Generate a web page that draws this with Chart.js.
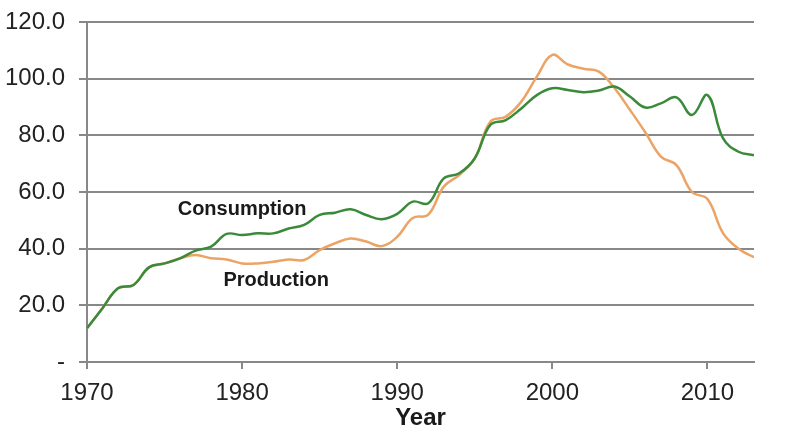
<!DOCTYPE html>
<html>
<head>
<meta charset="utf-8">
<script src="https://cdn.jsdelivr.net/npm/chart.js@4"></script>
<style>
  html, body { margin: 0; padding: 0; background: #fff; }
  #wrap { width: 800px; height: 441px; }
</style>
</head>
<body>
<div id="wrap"><canvas id="oilChart" width="800" height="441"></canvas></div>
<script>
// Years 1970 - 2013
const years = [];
for (let y = 1970; y <= 2013; y++) years.push(y);

const consumption = [
  11.9, 19.0, 26.0, 27.2, 33.4, 34.8, 36.6, 39.3, 40.7, 45.2,
  44.8, 45.4, 45.4, 47.1, 48.4, 51.9, 52.7, 53.9, 51.9, 50.4,
  52.3, 56.6, 56.0, 64.8, 66.6, 71.9, 83.7, 85.4, 89.5, 94.2,
  96.6, 96.0, 95.2, 95.8, 97.2, 93.7, 89.8, 91.3, 93.4, 87.2,
  94.2, 79.0, 74.2, 73.0
];

const production = [
  11.9, 19.0, 26.0, 27.2, 33.4, 34.8, 36.6, 37.8, 36.6, 36.2,
  34.8, 34.8, 35.4, 36.2, 36.0, 39.5, 41.9, 43.6, 42.5, 40.9,
  44.2, 50.8, 52.0, 61.9, 66.0, 71.9, 84.8, 86.6, 91.9, 100.7,
  108.4, 105.0, 103.5, 102.5, 96.7, 89.0, 81.0, 72.5, 69.5, 60.0,
  57.5, 45.5, 40.0, 37.0
];

const yTicks = [0, 20, 40, 60, 80, 100, 120];
const xTicks = [1970, 1980, 1990, 2000, 2010];

// series name labels drawn inside the plot, anchored in data units
const seriesLabels = [
  { text: "Consumption", x: 1980.0, y: 54.0 },
  { text: "Production", x: 1982.2, y: 28.6 }
];

const toPoints = arr => arr.map((v, i) => ({ x: years[i], y: v }));

const FONT = "'Liberation Sans', Arial, sans-serif";

const labelPlugin = {
  id: "seriesLabels",
  afterDatasetsDraw(chart) {
    const ctx = chart.ctx;
    const xs = chart.scales.x, ys = chart.scales.y;
    ctx.save();
    ctx.font = "bold 20px " + FONT;
    ctx.fillStyle = "#1a1a1a";
    ctx.textAlign = "center";
    ctx.textBaseline = "middle";
    seriesLabels.forEach(l => {
      ctx.fillText(l.text, xs.getPixelForValue(l.x), ys.getPixelForValue(l.y));
    });
    ctx.restore();
  }
};

const ctx = document.getElementById("oilChart").getContext("2d");

new Chart(ctx, {
  type: "line",
  data: {
    datasets: [
      {
        label: "Consumption",
        data: toPoints(consumption),
        borderColor: "#3a8a3a",
        borderWidth: 2.5,
        pointRadius: 0,
        tension: 0.4,
        fill: false
      },
      {
        label: "Production",
        data: toPoints(production),
        borderColor: "#eba466",
        borderWidth: 2.5,
        pointRadius: 0,
        tension: 0.4,
        fill: false
      }
    ]
  },
  options: {
    responsive: false,
    animation: false,
    layout: { padding: { left: 0, right: 46, top: 22, bottom: 8 } },
    plugins: {
      legend: { display: false },
      tooltip: { enabled: false }
    },
    scales: {
      x: {
        type: "linear",
        min: 1970,
        max: 2013,
        afterBuildTicks: scale => { scale.ticks = xTicks.map(v => ({ value: v })); },
        afterFit: scale => { scale.height = 71; },
        ticks: {
          color: "#222",
          font: { family: FONT, size: 24 },
          maxRotation: 0,
          padding: 10,
          callback: v => String(v)
        },
        grid: {
          drawOnChartArea: false,
          drawTicks: true,
          tickLength: 7,
          color: "#888",
          lineWidth: 2
        },
        border: { color: "#888", width: 2 },
        title: {
          display: true,
          text: "Year",
          color: "#1a1a1a",
          font: { family: FONT, size: 24, weight: "bold" },
          padding: { top: 0, bottom: 0 }
        }
      },
      y: {
        min: 0,
        max: 120,
        afterBuildTicks: scale => { scale.ticks = yTicks.map(v => ({ value: v })); },
        afterFit: scale => {
          scale.width = 87;
          scale.paddingTop = 0;
          scale.paddingBottom = 0;
        },
        ticks: {
          color: "#222",
          font: { family: FONT, size: 24 },
          padding: 14,
          callback: v => v === 0 ? "-" : v.toFixed(1)
        },
        grid: {
          color: "#888",
          lineWidth: 2,
          tickLength: 8
        },
        border: { color: "#888", width: 2 }
      }
    }
  },
  plugins: [labelPlugin]
});
</script>
</body>
</html>
